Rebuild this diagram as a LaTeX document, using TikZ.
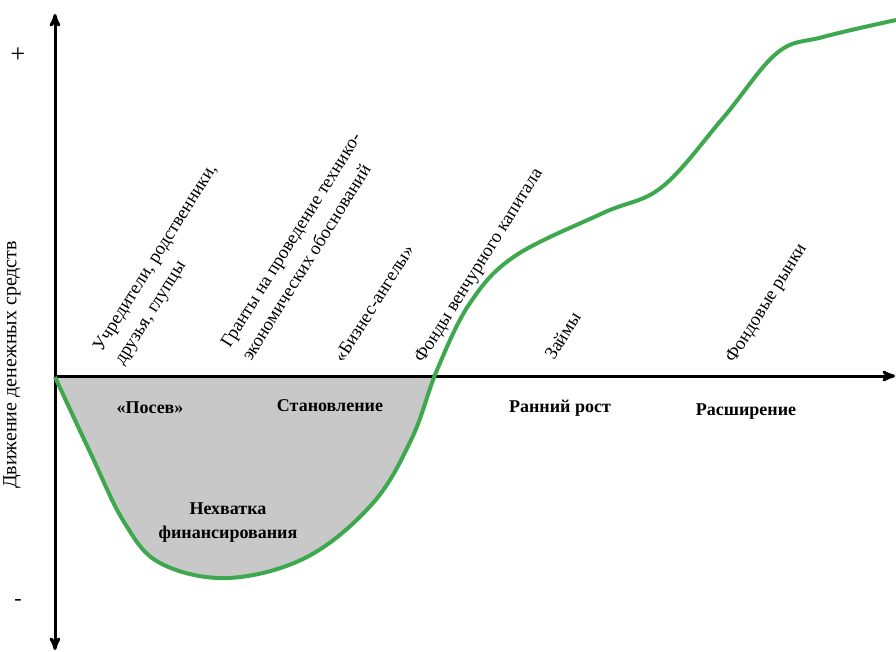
\documentclass[tikz,border=0pt]{standalone}
\usepackage{fontspec}
\setmainfont{Liberation Serif}
\usetikzlibrary{arrows}
\definecolor{curvegreen}{RGB}{62,168,78}
\definecolor{gapgray}{RGB}{200,200,200}
\tikzset{
    axis/.style =   {line width=3pt,
                    draw=black,
                    <->},
    money/.style =  {line width=4pt,
                    draw=curvegreen},
    source/.style = {rotate=58,
                    anchor=base west,
                    align=left,
                    inner sep=0pt,
                    font=\fontsize{18.5}{25}\selectfont},
    stage/.style =  {font=\bfseries\fontsize{18}{24}\selectfont,
                    align=center,
                    inner sep=0pt},
    -,
    >=stealth',
    draw=white!20!black}

\begin{document}
\begin{tikzpicture}[x=1pt,y=-1pt]
                \useasboundingbox (0,0) rectangle (896,651);
                \coordinate (O) at (55,376);
                \coordinate (Top) at (55,14);
                \coordinate (Bot) at (55,650);
                \coordinate (Right) at (895,376);
                \def\flow{(55,377) (90,452) (124,522) (160,563) (228,578) (307,557) (373,503) (412,438) (437,370) (470,303) (515,256) (603,213) (662,187) (723,118) (777,53) (823,37) (896,20)}

                % shortfall area under the axis
                \begin{scope}
                    \clip (55,376) rectangle (896,651);
                    \fill[gapgray] plot[smooth,tension=0.6] coordinates {\flow} -- (896,376) -- cycle;
                \end{scope}

                \draw[axis] (Bot) -- (Top);
                \draw[axis,-stealth'] (O) -- (Right);

                \draw[money] plot[smooth,tension=0.6] coordinates {\flow};

                \node (plus)   at (18,55)  {\fontsize{26}{28}\selectfont +};
                \node (minus)  at (18,602) {\fontsize{22}{24}\selectfont -};
                \node (ylabel) [rotate=90] at (12,365) {\fontsize{20}{24}\selectfont Движение денежных средств};

                \node[source] (founders) at (123,366) {Учредители, родственники,\\друзья, глупцы};
                \node[source] (grants)   at (251,362) {Гранты на проведение технико-\\экономических обоснований};
                \node[source] (angels)   at (343,364) {«Бизнес-ангелы»};
                \node[source] (venture)  at (423,364) {Фонды венчурного капитала};
                \node[source] (loans)    at (554,361) {Займы};
                \node[source] (markets)  at (734,364) {Фондовые рынки};

                \node[stage] (seed)      at (150,408) {«Посев»};
                \node[stage] (startup)   at (330,406) {Становление};
                \node[stage] (early)     at (560,408) {Ранний рост};
                \node[stage] (expansion) at (746,412) {Расширение};
                \node[stage] (gap)       at (228,523) {Нехватка\\финансирования};
\end{tikzpicture}
\end{document}
